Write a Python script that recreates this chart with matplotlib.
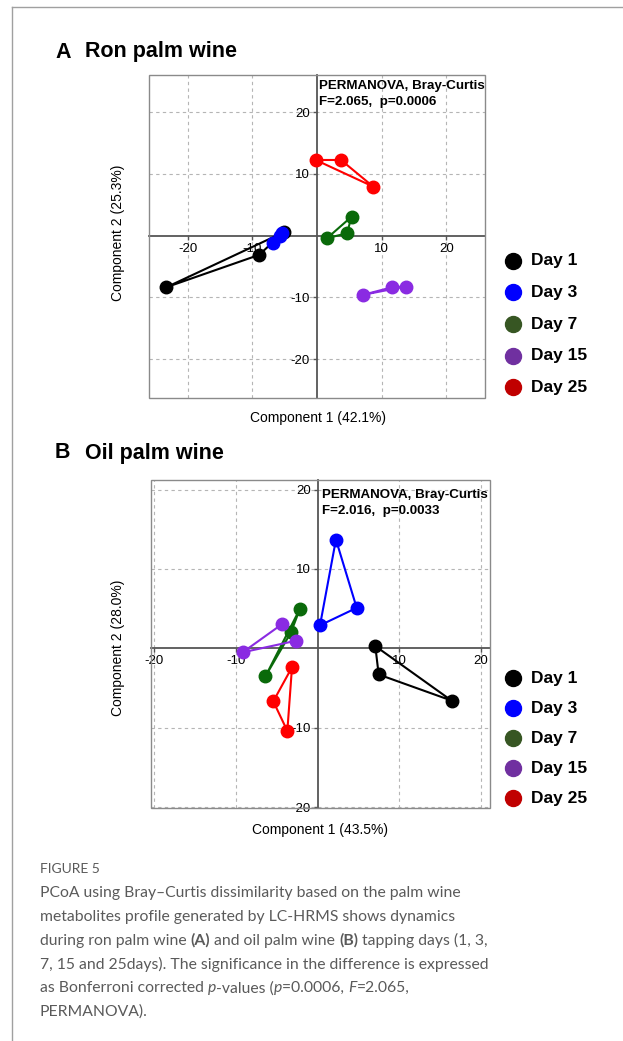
import matplotlib
matplotlib.use("Agg")
import matplotlib.pyplot as plt
from matplotlib.patches import Rectangle
from matplotlib.lines import Line2D

# ---------------- data ----------------
days = ["Day 1", "Day 3", "Day 7", "Day 15", "Day 25"]
point_colors = ["#000000", "#0000FF", "#0A6A0A", "#8A2BE2", "#FF0000"]
legend_colors = ["#000000", "#0000FF", "#375623", "#7030A0", "#C00000"]

# Panel A: Ron palm wine
ron_x = {
    "Day 1": [-5.15, -8.97, -23.3],
    "Day 3": [-5.4, -5.7, -6.8],
    "Day 7": [1.55, 4.64, 5.36],
    "Day 15": [7.11, 11.65, 13.7],
    "Day 25": [-0.2, 3.71, 8.71],
}
ron_y = {
    "Day 1": [0.54, -3.13, -8.36],
    "Day 3": [0.4, 0.0, -1.2],
    "Day 7": [-0.43, 0.38, 3.07],
    "Day 15": [-9.6, -8.36, -8.25],
    "Day 25": [12.24, 12.24, 7.92],
}
# Panel B: Oil palm wine
oil_x = {
    "Day 1": [7.06, 7.47, 16.4],
    "Day 3": [2.24, 4.78, 0.29],
    "Day 7": [-2.16, -3.27, -6.4],
    "Day 15": [-4.37, -2.65, -9.18],
    "Day 25": [-3.14, -5.43, -3.71],
}
oil_y = {
    "Day 1": [0.29, -3.29, -6.58],
    "Day 3": [13.7, 5.1, 2.9],
    "Day 7": [5.0, 2.0, -3.54],
    "Day 15": [3.04, 0.96, -0.5],
    "Day 25": [-2.38, -6.67, -10.4],
}
ticks = [-20, -10, 10, 20]
stats_A = ["PERMANOVA, Bray-Curtis", "F=2.065,  p=0.0006"]
stats_B = ["PERMANOVA, Bray-Curtis", "F=2.016,  p=0.0033"]

W, H = 623, 1041
fig = plt.figure(figsize=(W / 100, H / 100), dpi=100)
ARIAL = "Liberation Sans"


def fx(px):
    return px / W


def fy(py):
    return 1 - py / H


# outer border (top and left)
fig.add_artist(Line2D([fx(12), 1], [fy(7), fy(7)], color="#a0a0a0", lw=1.0))
fig.add_artist(Line2D([fx(12), fx(12)], [fy(7), 0], color="#a0a0a0", lw=1.0))


def panel(rect, xs, ys, xlim, ylim, stats, stat_y):
    ax = fig.add_axes(rect)
    ax.set_xlim(*xlim)
    ax.set_ylim(*ylim)
    for d, pc in zip(days, point_colors):
        x = xs[d] + [xs[d][0]]
        y = ys[d] + [ys[d][0]]
        ax.plot(x, y, color=pc, lw=1.5, zorder=3)
        ax.plot(xs[d], ys[d], "o", color=pc, ms=9, zorder=4, mec=pc)
    ax.spines["left"].set_position(("data", 0))
    ax.spines["bottom"].set_position(("data", 0))
    for s in ("left", "bottom"):
        ax.spines[s].set_color("#555555")
        ax.spines[s].set_linewidth(1.3)
    ax.spines["top"].set_visible(False)
    ax.spines["right"].set_visible(False)
    ax.add_patch(Rectangle((0, 0), 1, 1, transform=ax.transAxes, fill=False,
                           ec="#8a8a8a", lw=1.0, clip_on=False, zorder=5))
    ax.set_xticks(ticks)
    ax.set_yticks(ticks)
    ax.set_xticklabels([str(t) for t in ticks], fontsize=9.5, family=ARIAL)
    ax.set_yticklabels([str(t) for t in ticks], fontsize=9.5, family=ARIAL)
    ax.tick_params(axis="both", length=3, width=1, color="#555555", pad=2)
    ax.grid(True, ls=(0, (3, 3)), color="#b5b5b5", lw=0.8)
    ax.set_axisbelow(True)
    for i, s in enumerate(stats):
        ax.text(0.505, stat_y - i * 0.05, s, transform=ax.transAxes, fontsize=9.6,
                fontweight="bold", family=ARIAL, va="center", ha="left")
    return ax


axA = panel([fx(149), fy(398), fx(485) - fx(149), fy(75) - fy(398)],
            ron_x, ron_y, (-26, 26), (-26.3, 26), stats_A, 0.965)
axB = panel([fx(151), fy(808), fx(490) - fx(151), fy(480) - fy(808)],
            oil_x, oil_y, (-20.4, 21.1), (-20.1, 21.2), stats_B, 0.955)

# titles
for letter, title, py in [("A", "Ron palm wine", 52), ("B", "Oil palm wine", 453)]:
    fig.text(fx(55), fy(py), letter, fontsize=15.5, fontweight="bold", family=ARIAL, va="center")
    fig.text(fx(85), fy(py), title, fontsize=15.5, fontweight="bold", family=ARIAL, va="center")

# axis labels
fig.text(fx(318), fy(418), "Component 1 (42.1%)", fontsize=10, family=ARIAL, ha="center", va="center")
fig.text(fx(118), fy(233), "Component 2 (25.3%)", fontsize=10, family=ARIAL, ha="center", va="center", rotation=90)
fig.text(fx(320), fy(830), "Component 1 (43.5%)", fontsize=10, family=ARIAL, ha="center", va="center")
fig.text(fx(118), fy(648), "Component 2 (28.0%)", fontsize=10, family=ARIAL, ha="center", va="center", rotation=90)

# legends
for y0, step in [(261, 31.5), (678, 30)]:
    for i, (d, lc) in enumerate(zip(days, legend_colors)):
        py = y0 + i * step
        fig.add_artist(Line2D([fx(513)], [fy(py)], marker="o", ms=11.5, color=lc, mec=lc, ls="none"))
        fig.text(fx(531), fy(py), d, fontsize=12.5, fontweight="bold", family=ARIAL, va="center")

# caption
CAP = "Lato"
CAPC = "#5a5a5a"
fig.text(fx(40), fy(869), "FIGURE 5", fontsize=10, family=CAP, color=CAPC, va="center")
caption_lines = [
    [("PCoA using Bray\u2013Curtis dissimilarity based on the palm wine", "normal", "normal")],
    [("metabolites profile generated by LC-HRMS shows dynamics", "normal", "normal")],
    [("during ron palm wine ", "normal", "normal"), ("(A)", "bold", "normal"),
     (" and oil palm wine ", "normal", "normal"), ("(B)", "bold", "normal"),
     (" tapping days (1, 3,", "normal", "normal")],
    [("7, 15 and 25days). The significance in the difference is expressed", "normal", "normal")],
    [("as Bonferroni corrected ", "normal", "normal"), ("p", "normal", "italic"),
     ("-values (", "normal", "normal"), ("p", "normal", "italic"),
     ("=0.0006, ", "normal", "normal"), ("F", "normal", "italic"),
     ("=2.065,", "normal", "normal")],
    [("PERMANOVA).", "normal", "normal")],
]
renderer = fig.canvas.get_renderer()
for li, parts in enumerate(caption_lines):
    py = 893 + li * 23.8
    x = 40
    for txt, wt, st in parts:
        t = fig.text(fx(x), fy(py), txt, fontsize=11.3, family=CAP, color=CAPC,
                     fontweight=wt, style=st, va="center")
        bb = t.get_window_extent(renderer=renderer)
        x += bb.width

fig.savefig("out.png", dpi=100)
